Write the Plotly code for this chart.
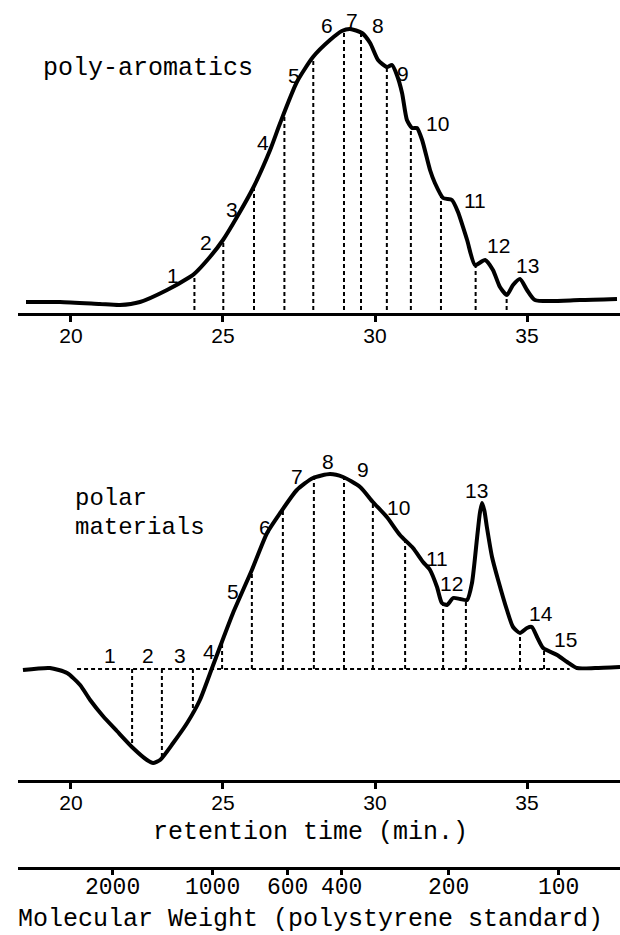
import numpy as np
import plotly.graph_objects as go

W, H = 620, 935

# ---------------- data (retention time in min, detector signal in arbitrary units) -------------
top_t = [18.52, 19.64, 20.95, 21.61, 22.27, 23.16, 23.91, 24.05, 24.57, 25.0, 25.46, 25.99,
         26.55, 26.88, 27.43, 27.96, 28.52, 28.91, 29.18, 29.57, 29.84, 30.1, 30.39, 30.56,
         30.72, 30.89, 31.05, 31.22, 31.38, 31.55, 31.81, 31.97, 32.24, 32.53, 32.73, 33.03,
         33.29, 33.62, 33.88, 34.11, 34.34, 34.54, 34.77, 35.0, 35.26, 36.74, 37.96]
top_signal = [-1, -1, -3, -4, -1, 11, 24, 27, 44, 61, 84, 113,
              151, 178, 219, 244, 261, 270, 272, 268, 258, 241, 234, 236,
              226, 208, 181, 173, 173, 161, 131, 118, 103, 101, 89, 61,
              36, 41, 31, 14, 6, 16, 22, 11, 1, 1, 2]
top_cuts = [24.06, 25.01, 26.02, 27.02, 27.97, 28.98, 29.54, 30.39, 31.18, 32.17, 33.31, 34.33]
top_labels = ["1", "2", "3", "4", "5", "6", "7", "8", "9", "10", "11", "12", "13"]
top_label_t = [23.36, 24.44, 25.30, 26.32, 27.34, 28.42, 29.24, 30.10, 30.92, 32.04, 33.29, 34.05, 35.03]
top_label_y = [26, 59, 92, 159, 226, 276, 281, 276, 228, 178, 101, 56, 36]

bot_t = [18.42, 19.31, 19.87, 20.3, 20.63, 21.05, 21.51, 22.04, 22.5, 22.7, 22.93, 23.36,
         23.82, 24.24, 24.64, 24.9, 25.33, 25.95, 26.45, 26.88, 27.43, 27.96, 28.52, 28.95,
         29.51, 29.93, 30.39, 30.82, 31.25, 31.58, 31.81, 32.04, 32.2, 32.37, 32.57, 32.8,
         33.03, 33.19, 33.36, 33.45, 33.52, 33.6, 33.68, 33.85, 34.05, 34.34, 34.54, 34.77,
         35.0, 35.16, 35.33, 35.53, 35.99, 36.32, 36.64, 37.24, 38.06]
bot_signal = [-1, 1, -4, -16, -31, -47, -62, -79, -91, -94, -91, -74,
              -54, -31, 1, 22, 56, 99, 136, 156, 179, 191, 195, 192,
              182, 167, 152, 134, 121, 107, 99, 82, 66, 64, 71, 70,
              69, 86, 132, 156, 166, 158, 142, 112, 89, 59, 42, 36,
              41, 42, 32, 21, 14, 7, 1, 1, 2]
bot_cuts = [22.01, 22.99, 24.01, 24.97, 25.95, 26.97, 27.99, 28.98, 29.93, 30.99, 32.24,
            32.99, 34.77, 35.56]
bot_base_t = [20.2, 36.4]
bot_labels = ["1", "2", "3", "4", "5", "6", "7", "8", "9", "10", "11", "12", "13", "14", "15"]
bot_label_t = [21.28, 22.53, 23.59, 24.54, 25.33, 26.39, 27.43, 28.45, 29.6, 30.76, 32.04,
               32.5, 33.33, 35.46, 36.28]
bot_label_y = [14, 14, 14, 18, 78, 142, 193, 208, 200, 162, 111, 86, 179, 56, 30]

ret_ticks = [20, 25, 30, 35]
mw_tick_t = [21.38, 24.64, 27.11, 28.91, 32.43, 36.02]
mw_tick_text = ["2000", "1000", "600", "400", "200", "100"]

# ---------------- layout helpers ----------------
XR = [18.257, 38.059]
XDOM = [18 / W, 1.0]


def py(px):
    return 1 - px / H


BLACK = "#000000"
SANS = "Liberation Sans, Arial, sans-serif"
MONO = "Liberation Mono, Courier New, monospace"

fig = go.Figure()

# curves
fig.add_trace(go.Scatter(x=top_t, y=top_signal, mode="lines", xaxis="x", yaxis="y",
                         line=dict(color=BLACK, width=4, shape="spline", smoothing=0.6),
                         hoverinfo="skip"))
fig.add_trace(go.Scatter(x=bot_t, y=bot_signal, mode="lines", xaxis="x2", yaxis="y2",
                         line=dict(color=BLACK, width=4, shape="spline", smoothing=0.6),
                         hoverinfo="skip"))

DASH = dict(color=BLACK, width=2, dash="4px,3px")

# dashed cut lines, top
top_cut_vals = np.interp(top_cuts, top_t, top_signal)
xs, ys = [], []
for t, v in zip(top_cuts, top_cut_vals):
    xs += [t, t, None]
    ys += [-9, float(v), None]
fig.add_trace(go.Scatter(x=xs, y=ys, mode="lines", xaxis="x", yaxis="y",
                         line=DASH, hoverinfo="skip"))

# dashed cut lines, bottom
bot_cut_vals = np.interp(bot_cuts, bot_t, bot_signal)
xs, ys = [], []
for t, v in zip(bot_cuts, bot_cut_vals):
    xs += [t, t, None]
    ys += [0, float(v), None]
xs += [bot_base_t[0], bot_base_t[1], None]
ys += [0, 0, None]
fig.add_trace(go.Scatter(x=xs, y=ys, mode="lines", xaxis="x2", yaxis="y2",
                         line=DASH, hoverinfo="skip"))

# invisible trace for MW axis
fig.add_trace(go.Scatter(x=mw_tick_t, y=[0.5] * len(mw_tick_t), mode="markers", xaxis="x3",
                         yaxis="y3", marker=dict(opacity=0), hoverinfo="skip"))

annotations = []
for lab, t, v in zip(top_labels, top_label_t, top_label_y):
    annotations.append(dict(x=t, y=v, xref="x", yref="y", text=lab, showarrow=False,
                            font=dict(family=SANS, size=21, color=BLACK)))
for lab, t, v in zip(bot_labels, bot_label_t, bot_label_y):
    annotations.append(dict(x=t, y=v, xref="x2", yref="y2", text=lab, showarrow=False,
                            font=dict(family=SANS, size=21, color=BLACK)))
# molecular weight tick labels
for lab, t in zip(mw_tick_text, mw_tick_t):
    annotations.append(dict(x=t, y=py(888), xref="x3", yref="paper", text=lab,
                            showarrow=False, xanchor="center", yanchor="middle",
                            font=dict(family=MONO, size=23, color=BLACK)))

texts = [
    ("poly-aromatics", 41, 68, "left", 25),
    ("polar", 73, 498, "left", 24),
    ("materials", 73, 527, "left", 24),
    ("retention time (min.)", 310, 832, "center", 25),
    ("Molecular Weight (polystyrene standard)", 310, 919, "center", 25),
]
for txt, x, y, anc, fs in texts:
    annotations.append(dict(x=x / W, y=py(y), xref="paper", yref="paper", text=txt,
                            showarrow=False, xanchor=anc, yanchor="middle",
                            font=dict(family=MONO, size=fs, color=BLACK)))

ret_axis = dict(range=XR, domain=XDOM, showline=True, linecolor=BLACK, linewidth=3,
                ticks="outside", ticklen=6, tickwidth=3, tickcolor=BLACK,
                tickvals=ret_ticks, ticktext=[str(v) for v in ret_ticks],
                tickfont=dict(family=SANS, size=21, color=BLACK), ticklabelstandoff=-4,
                showgrid=False, zeroline=False, fixedrange=True)

hidden_y = dict(visible=False, showgrid=False, zeroline=False, fixedrange=True)

fig.update_layout(
    width=W, height=H,
    margin=dict(l=0, r=0, t=0, b=0),
    paper_bgcolor="white", plot_bgcolor="white",
    showlegend=False,
    xaxis=dict(ret_axis, anchor="y"),
    yaxis=dict(hidden_y, domain=[py(313), 1.0], range=[-12, 301]),
    xaxis2=dict(ret_axis, anchor="y2"),
    yaxis2=dict(hidden_y, domain=[py(780), py(430)], range=[-111, 239]),
    xaxis3=dict(range=XR, domain=XDOM, anchor="y3", showline=True, linecolor=BLACK,
                linewidth=3, ticks="outside", ticklen=5, tickwidth=3, tickcolor=BLACK,
                tickvals=mw_tick_t, showticklabels=False,
                showgrid=False, zeroline=False, fixedrange=True),
    yaxis3=dict(hidden_y, domain=[py(867), py(857)], range=[0, 1]),
    annotations=annotations,
)

fig.write_html("out.html", config={"displayModeBar": False},
               post_script="document.body.style.margin='0';")
